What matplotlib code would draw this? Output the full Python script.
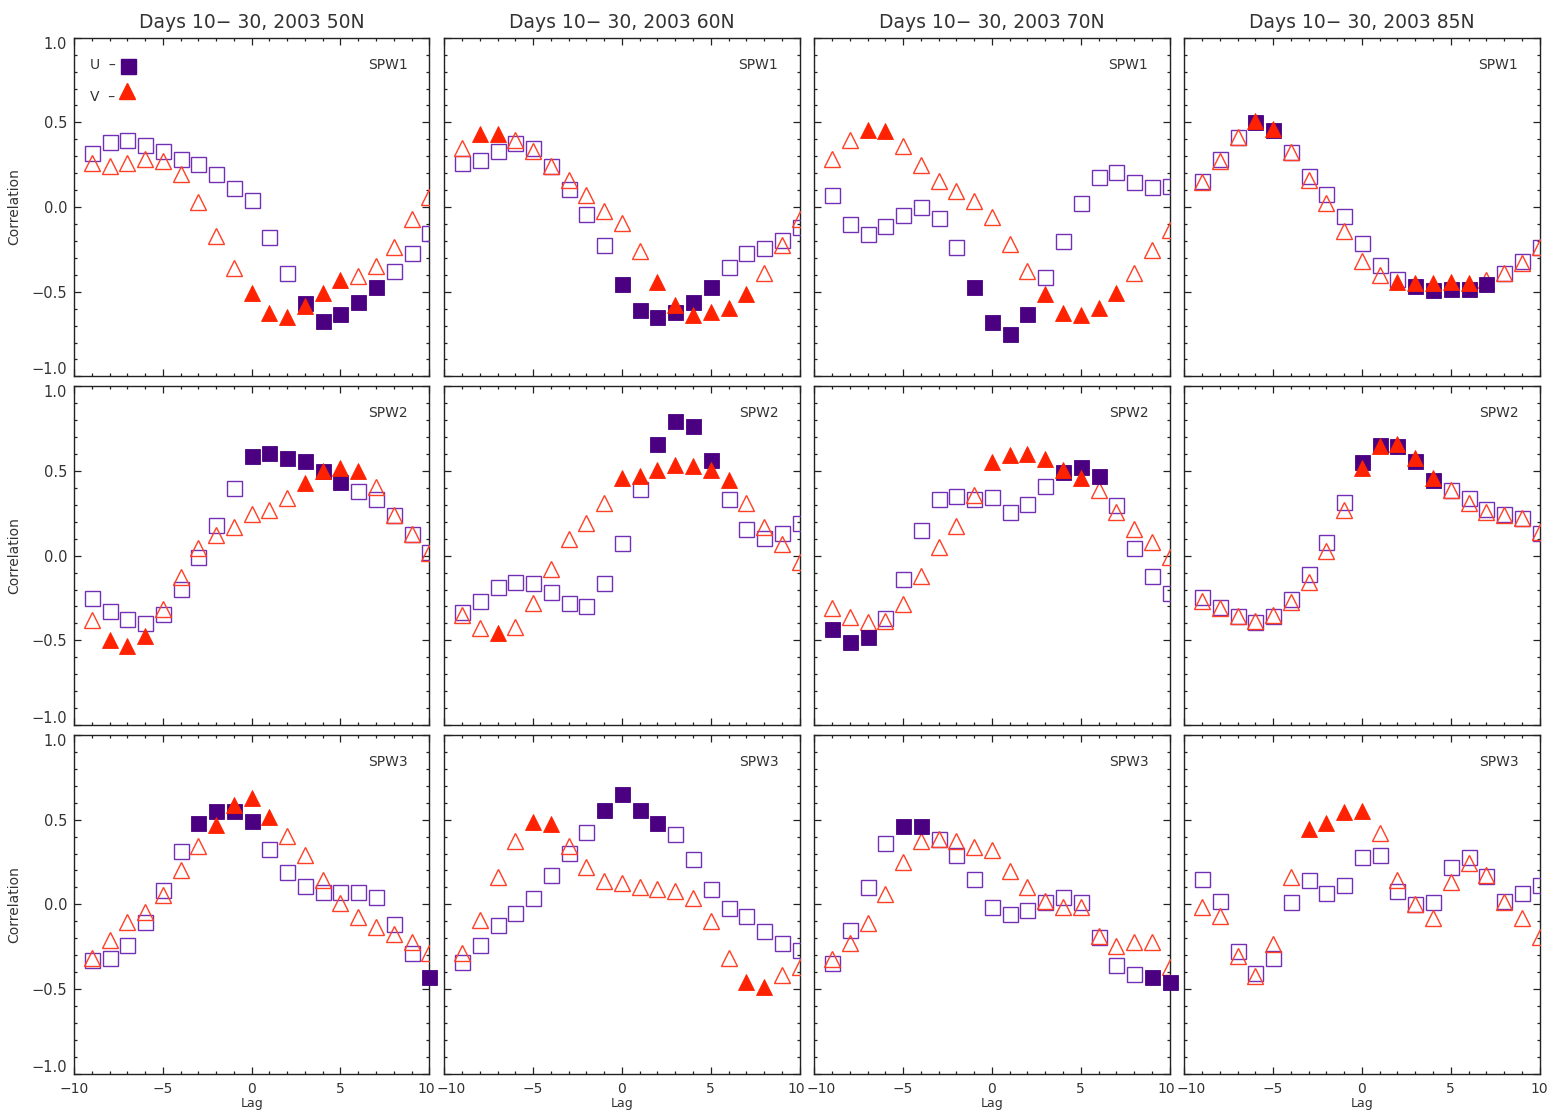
import numpy as np
import matplotlib
matplotlib.use("Agg")
import matplotlib.pyplot as plt
import matplotlib.transforms as mtransforms
from matplotlib.ticker import MultipleLocator, FixedLocator

# Lagged correlations of SPW amplitudes with zonal (U) and meridional (V) wind
lags = list(range(-9, 11))
latitudes = ["50N", "60N", "70N", "85N"]
waves = ["SPW1", "SPW2", "SPW3"]
period = "Days 10\u2212 30, 2003"

# ---- SPW1 ----
u_spw1_50n = [0.317, 0.386, 0.398, 0.366, 0.331, 0.285, 0.252, 0.193, 0.114, 0.041,
              -0.179, -0.392, -0.565, -0.671, -0.634, -0.561, -0.470, -0.376, -0.274, -0.156]
v_spw1_50n = [0.258, 0.242, 0.258, 0.281, 0.274, 0.193, 0.028, -0.169, -0.362, -0.510,
              -0.628, -0.652, -0.585, -0.510, -0.431, -0.407, -0.348, -0.234, -0.073, 0.061]
u_sig_spw1_50n = [3, 4, 5, 6, 7]
v_sig_spw1_50n = [0, 1, 2, 3, 4, 5]

u_spw1_60n = [0.260, 0.278, 0.333, 0.380, 0.350, 0.244, 0.106, -0.039, -0.224, -0.455,
              -0.610, -0.648, -0.618, -0.559, -0.474, -0.352, -0.270, -0.240, -0.195, -0.120]
v_spw1_60n = [0.350, 0.431, 0.431, 0.396, 0.331, 0.244, 0.159, 0.069, -0.024, -0.096,
              -0.258, -0.441, -0.579, -0.638, -0.618, -0.598, -0.514, -0.392, -0.224, -0.073]
u_sig_spw1_60n = [0, 1, 2, 3, 4, 5]
v_sig_spw1_60n = [-8, -7, 2, 3, 4, 5, 6, 7]

u_spw1_70n = [0.071, -0.098, -0.159, -0.112, -0.045, 0.002, -0.065, -0.238, -0.470, -0.679,
              -0.752, -0.632, -0.415, -0.203, 0.022, 0.177, 0.209, 0.148, 0.120, 0.124]
v_spw1_70n = [0.281, 0.396, 0.455, 0.451, 0.360, 0.248, 0.154, 0.096, 0.037, -0.057,
              -0.219, -0.376, -0.516, -0.628, -0.640, -0.598, -0.510, -0.392, -0.254, -0.136]
u_sig_spw1_70n = [-1, 0, 1, 2]
v_sig_spw1_70n = [-7, -6, 3, 4, 5, 6, 7]

u_spw1_85n = [0.156, 0.281, 0.411, 0.500, 0.455, 0.325, 0.183, 0.077, -0.053, -0.211,
              -0.344, -0.427, -0.467, -0.490, -0.486, -0.486, -0.455, -0.392, -0.317, -0.238]
v_spw1_85n = [0.150, 0.274, 0.415, 0.510, 0.459, 0.323, 0.159, 0.022, -0.140, -0.317,
              -0.402, -0.441, -0.451, -0.451, -0.441, -0.451, -0.431, -0.388, -0.333, -0.234]
u_sig_spw1_85n = [-6, -5, 3, 4, 5, 6, 7]
v_sig_spw1_85n = [-6, -5, 2, 3, 4, 5, 6]

# ---- SPW2 ----
u_spw2_50n = [-0.252, -0.327, -0.372, -0.400, -0.344, -0.199, -0.010, 0.181, 0.398, 0.589,
              0.604, 0.579, 0.559, 0.502, 0.437, 0.382, 0.335, 0.240, 0.126, 0.024]
v_spw2_50n = [-0.380, -0.498, -0.533, -0.474, -0.317, -0.124, 0.043, 0.122, 0.171, 0.244,
              0.270, 0.339, 0.427, 0.500, 0.516, 0.502, 0.407, 0.240, 0.128, 0.018]
u_sig_spw2_50n = [0, 1, 2, 3, 4, 5]
v_sig_spw2_50n = [-8, -7, -6, 3, 4, 5, 6]

u_spw2_60n = [-0.331, -0.266, -0.187, -0.154, -0.159, -0.217, -0.278, -0.295, -0.159, 0.077,
              0.394, 0.659, 0.795, 0.768, 0.565, 0.333, 0.156, 0.102, 0.132, 0.195]
v_spw2_60n = [-0.350, -0.429, -0.455, -0.423, -0.281, -0.079, 0.096, 0.195, 0.309, 0.457,
              0.470, 0.506, 0.535, 0.530, 0.506, 0.447, 0.309, 0.171, 0.069, -0.035]
u_sig_spw2_60n = [2, 3, 4, 5]
v_sig_spw2_60n = [-7, 0, 1, 2, 3, 4, 5, 6]

u_spw2_70n = [-0.435, -0.508, -0.482, -0.370, -0.138, 0.152, 0.333, 0.352, 0.337, 0.344,
              0.258, 0.305, 0.411, 0.492, 0.526, 0.470, 0.301, 0.047, -0.120, -0.222]
v_spw2_70n = [-0.311, -0.364, -0.390, -0.384, -0.285, -0.120, 0.053, 0.177, 0.358, 0.555,
              0.594, 0.600, 0.571, 0.506, 0.461, 0.388, 0.260, 0.157, 0.079, -0.006]
u_sig_spw2_70n = [-9, -8, -7, 4, 5, 6]
v_sig_spw2_70n = [0, 1, 2, 3, 4, 5]

u_spw2_85n = [-0.242, -0.301, -0.354, -0.394, -0.356, -0.258, -0.110, 0.079, 0.315, 0.555,
              0.654, 0.650, 0.559, 0.447, 0.388, 0.341, 0.278, 0.246, 0.224, 0.136]
v_spw2_85n = [-0.266, -0.311, -0.356, -0.384, -0.350, -0.272, -0.154, 0.030, 0.270, 0.516,
              0.650, 0.659, 0.575, 0.461, 0.388, 0.313, 0.258, 0.240, 0.224, 0.142]
u_sig_spw2_85n = [0, 1, 2, 3, 4]
v_sig_spw2_85n = [0, 1, 2, 3, 4]

# ---- SPW3 ----
u_spw3_50n = [-0.329, -0.319, -0.240, -0.106, 0.085, 0.317, 0.482, 0.551, 0.551, 0.494,
              0.325, 0.193, 0.108, 0.071, 0.075, 0.075, 0.041, -0.116, -0.289, -0.427]
v_spw3_50n = [-0.319, -0.211, -0.102, -0.043, 0.055, 0.203, 0.344, 0.469, 0.585, 0.630,
              0.514, 0.404, 0.291, 0.144, 0.010, -0.077, -0.136, -0.175, -0.220, -0.285]
u_sig_spw3_50n = [-3, -2, -1, 0, 10]
v_sig_spw3_50n = [-2, -1, 0, 1]

u_spw3_60n = [-0.343, -0.240, -0.122, -0.049, 0.039, 0.171, 0.301, 0.425, 0.557, 0.650,
              0.557, 0.478, 0.413, 0.266, 0.089, -0.024, -0.069, -0.157, -0.226, -0.270]
v_spw3_60n = [-0.285, -0.093, 0.163, 0.374, 0.488, 0.472, 0.344, 0.222, 0.140, 0.124,
              0.104, 0.091, 0.079, 0.035, -0.096, -0.319, -0.457, -0.486, -0.417, -0.372]
u_sig_spw3_60n = [-1, 0, 1, 2]
v_sig_spw3_60n = [-5, -4, 7, 8]

u_spw3_70n = [-0.348, -0.152, 0.104, 0.364, 0.465, 0.465, 0.384, 0.291, 0.152, -0.014,
              -0.059, -0.033, 0.016, 0.045, 0.016, -0.195, -0.358, -0.411, -0.431, -0.457]
v_spw3_70n = [-0.325, -0.230, -0.108, 0.059, 0.252, 0.374, 0.384, 0.376, 0.341, 0.321,
              0.197, 0.104, 0.022, -0.014, -0.014, -0.185, -0.246, -0.220, -0.220, -0.368]
u_sig_spw3_70n = [-5, -4, 9, 10]
v_sig_spw3_70n = []

u_spw3_85n = [0.150, 0.022, -0.274, -0.407, -0.315, 0.012, 0.144, 0.065, 0.114, 0.278,
              0.293, 0.081, 0.002, 0.012, 0.222, 0.281, 0.167, 0.020, 0.069, 0.114]
v_spw3_85n = [-0.014, -0.069, -0.303, -0.423, -0.234, 0.163, 0.443, 0.478, 0.547, 0.553,
              0.419, 0.144, 0.000, -0.083, 0.134, 0.242, 0.173, 0.016, -0.083, -0.195]
u_sig_spw3_85n = []
v_sig_spw3_85n = [-3, -2, -1, 0]

panels = {
    ("SPW1", "50N"): (u_spw1_50n, v_spw1_50n, u_sig_spw1_50n, v_sig_spw1_50n),
    ("SPW1", "60N"): (u_spw1_60n, v_spw1_60n, u_sig_spw1_60n, v_sig_spw1_60n),
    ("SPW1", "70N"): (u_spw1_70n, v_spw1_70n, u_sig_spw1_70n, v_sig_spw1_70n),
    ("SPW1", "85N"): (u_spw1_85n, v_spw1_85n, u_sig_spw1_85n, v_sig_spw1_85n),
    ("SPW2", "50N"): (u_spw2_50n, v_spw2_50n, u_sig_spw2_50n, v_sig_spw2_50n),
    ("SPW2", "60N"): (u_spw2_60n, v_spw2_60n, u_sig_spw2_60n, v_sig_spw2_60n),
    ("SPW2", "70N"): (u_spw2_70n, v_spw2_70n, u_sig_spw2_70n, v_sig_spw2_70n),
    ("SPW2", "85N"): (u_spw2_85n, v_spw2_85n, u_sig_spw2_85n, v_sig_spw2_85n),
    ("SPW3", "50N"): (u_spw3_50n, v_spw3_50n, u_sig_spw3_50n, v_sig_spw3_50n),
    ("SPW3", "60N"): (u_spw3_60n, v_spw3_60n, u_sig_spw3_60n, v_sig_spw3_60n),
    ("SPW3", "70N"): (u_spw3_70n, v_spw3_70n, u_sig_spw3_70n, v_sig_spw3_70n),
    ("SPW3", "85N"): (u_spw3_85n, v_spw3_85n, u_sig_spw3_85n, v_sig_spw3_85n),
}

U_FILL = "#4B0082"
U_EDGE = "#7430B4"
V_FILL = "#FF2200"
V_EDGE = "#FF3F26"
TXT = "#333333"

W, H = 1548, 1111
fig = plt.figure(figsize=(W / 100, H / 100), dpi=100)

col_left = [74, 444.3, 814.3, 1184.3]
row_top = [37.7, 386.3, 735.0]
ax_w, ax_h = 355.3, 338.7

sq_ms = 10.8
tri_ms = 11.0


def shift(dx_px, dy_px):
    return mtransforms.ScaledTranslation(dx_px / 100, dy_px / 100, fig.dpi_scale_trans)


for r, wave in enumerate(waves):
    for c, lat in enumerate(latitudes):
        ax = fig.add_axes([col_left[c] / W, 1 - (row_top[r] + ax_h) / H, ax_w / W, ax_h / H])
        u, v, usig, vsig = panels[(wave, lat)]
        lag_arr = np.array(lags)
        u_arr = np.array(u)
        v_arr = np.array(v)
        um = np.isin(lag_arr, usig)
        vm = np.isin(lag_arr, vsig)

        # open (non-significant) markers, clipped to the frame
        ax.plot(lag_arr[~um], u_arr[~um], ls="none", marker="s", ms=sq_ms,
                mfc="none", mec=U_EDGE, mew=1.0, clip_on=True, zorder=3)
        ax.plot(lag_arr[~vm], v_arr[~vm], ls="none", marker="^", ms=tri_ms,
                mfc="none", mec=V_EDGE, mew=1.0, clip_on=True, zorder=4)
        # filled (significant) markers
        ax.plot(lag_arr[um], u_arr[um], ls="none", marker="s", ms=sq_ms,
                mfc=U_FILL, mec=U_FILL, mew=0.6, clip_on=False, zorder=5)
        ax.plot(lag_arr[vm], v_arr[vm], ls="none", marker="^", ms=tri_ms,
                mfc=V_FILL, mec=V_FILL, mew=0.6, clip_on=False, zorder=6)

        ax.set_xlim(-10, 10)
        ax.set_ylim(-1, 1)
        ax.xaxis.set_major_locator(FixedLocator([-10, -5, 0, 5, 10]))
        ax.xaxis.set_minor_locator(MultipleLocator(1))
        ax.yaxis.set_major_locator(FixedLocator([-1.0, -0.5, 0.0, 0.5, 1.0]))
        ax.yaxis.set_minor_locator(MultipleLocator(0.1))
        ax.tick_params(which="both", direction="in", top=True, right=True,
                       color="#222222", labelcolor=TXT, labelsize=10.5)
        ax.tick_params(which="major", length=5, width=0.9)
        ax.tick_params(which="minor", length=2.5, width=0.9)
        ax.tick_params(axis="y", pad=5)
        ax.tick_params(axis="x", pad=6, labelsize=10)
        for sp in ax.spines.values():
            sp.set_color("#222222")
            sp.set_linewidth(1.0)

        if c == 0:
            ax.set_yticklabels(["\u22121.0", "\u22120.5", "0.0", "0.5", "1.0"])
            ylabs = ax.get_yticklabels()
            ylabs[0].set_va("bottom")
            ylabs[-1].set_va("top")
            ylabs[0].set_transform(ylabs[0].get_transform() + shift(0, -1))
            ylabs[-1].set_transform(ylabs[-1].get_transform() + shift(0, 1))
            fig.text(14 / W, 1 - (row_top[r] + ax_h / 2) / H, "Correlation",
                     rotation=90, ha="center", va="center", fontsize=10, color=TXT)
        else:
            ax.set_yticklabels([])
        if r == len(waves) - 1:
            ax.set_xticklabels(["\u221210", "\u22125", "0", "5", "10"])
            xlabs = ax.get_xticklabels()
            if c > 0:
                xlabs[0].set_transform(xlabs[0].get_transform() + shift(7, 0))
            if c < len(latitudes) - 1:
                xlabs[-1].set_transform(xlabs[-1].get_transform() + shift(-3, 0))
            fig.text((col_left[c] + ax_w / 2) / W, 1 - 1103 / H, "Lag",
                     ha="center", va="center", fontsize=9, color=TXT)
        else:
            ax.set_xticklabels([])

        if r == 0:
            ax.set_title(f"{period} {lat}", fontsize=13.5, color=TXT, pad=7)

        ax.text(0.94, 0.92, wave, transform=ax.transAxes, ha="right", va="center",
                fontsize=10, color=TXT)

        if r == 0 and c == 0:
            ax.text(0.045, 0.918, "U  \u2013", transform=ax.transAxes, ha="left",
                    va="center", fontsize=10, color=TXT)
            ax.text(0.045, 0.826, "V  \u2013", transform=ax.transAxes, ha="left",
                    va="center", fontsize=10, color=TXT)
            ax.plot([0.151], [0.916], transform=ax.transAxes, marker="s", ms=sq_ms,
                    mfc=U_FILL, mec=U_FILL, ls="none", clip_on=False, zorder=6)
            ax.plot([0.149], [0.844], transform=ax.transAxes, marker="^", ms=tri_ms,
                    mfc=V_FILL, mec=V_FILL, ls="none", clip_on=False, zorder=6)

fig.savefig("out.png", dpi=100, facecolor="white")
